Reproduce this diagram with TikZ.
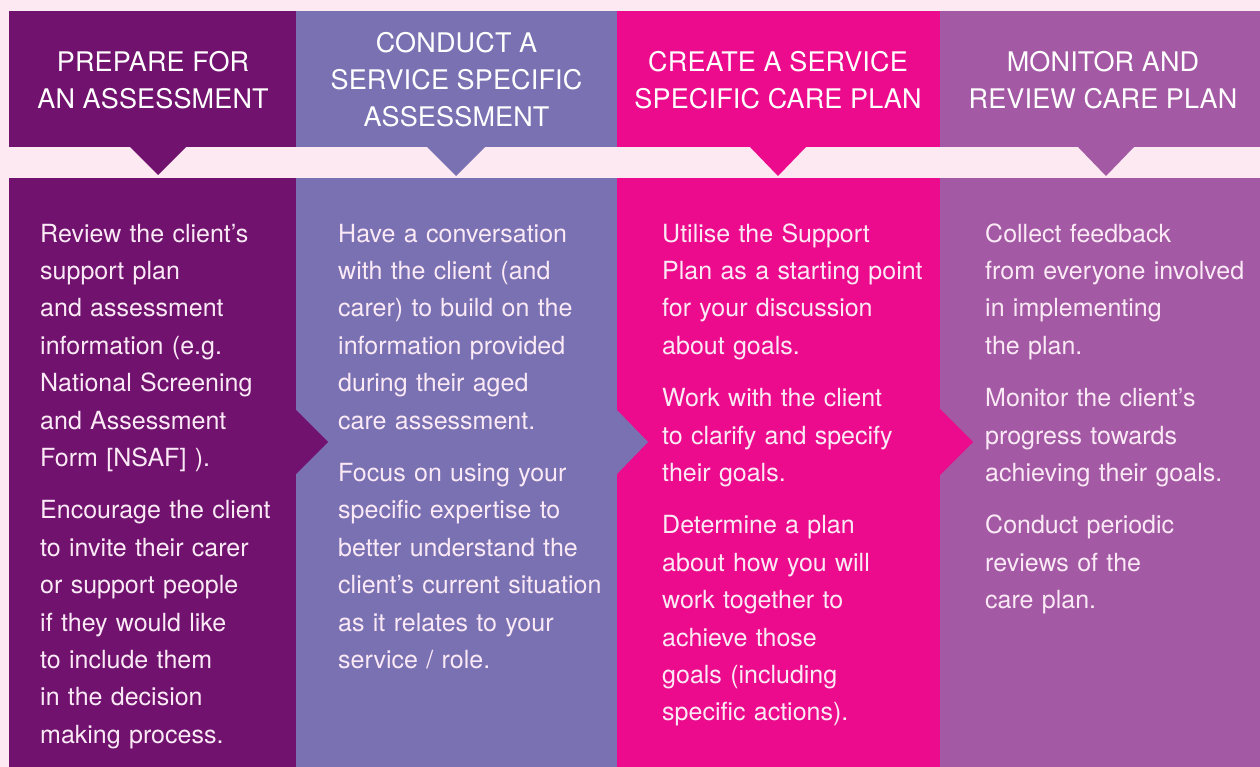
\documentclass[tikz,border=0pt]{standalone}
\usepackage{fontspec}
\setmainfont{TeX Gyre Heros}
\definecolor{bgpink}{HTML}{FCE9F1}
\definecolor{cA}{HTML}{70126E}
\definecolor{cB}{HTML}{7A71B2}
\definecolor{cC}{HTML}{EC0B8C}
\definecolor{cD}{HTML}{A359A3}
\definecolor{bodytxt}{HTML}{FBEAF6}
\begin{document}
\begin{tikzpicture}[x=1pt,y=-1pt,
  head/.style={text=white, font=\fontsize{27}{37}\selectfont\addfontfeature{LetterSpace=0.6}, align=center, inner sep=0pt},
  bodytext/.style={text=bodytxt, font=\fontsize{25}{37.4}\selectfont, align=left,
    text width=300pt, anchor=north west, inner sep=0pt}]
\fill[bgpink] (0,0) rectangle (1260,767);
\useasboundingbox (0,0) rectangle (1260,767);
% header band
\fill[cA] (9,11) rectangle (296,147);
\fill[cB] (296,11) rectangle (617,147);
\fill[cC] (617,11) rectangle (940,147);
\fill[cD] (940,11) rectangle (1260,147);
\fill[cA] (130,147) -- (158,175) -- (186,147) -- cycle;
\fill[cB] (427,147) -- (456,176) -- (485,147) -- cycle;
\fill[cC] (750,147) -- (778,176) -- (806,147) -- cycle;
\fill[cD] (1078,147) -- (1106,176) -- (1134,147) -- cycle;
% body band
\fill[cA] (9,178) rectangle (296,767);
\fill[cB] (296,178) rectangle (617,767);
\fill[cC] (617,178) rectangle (940,767);
\fill[cD] (940,178) rectangle (1260,767);
\fill[cA] (296,410) -- (328,442) -- (296,474) -- cycle;
\fill[cB] (617,410) -- (648,442) -- (617,474) -- cycle;
\fill[cC] (940,409) -- (973,442) -- (940,475) -- cycle;
% headings
\node[head] (h1) at (153,80) {PREPARE FOR\\AN ASSESSMENT};
\node[head] (h2) at (456.5,80) {CONDUCT A\\SERVICE SPECIFIC\\ASSESSMENT};
\node[head] (h3) at (778,80) {CREATE A SERVICE\\SPECIFIC CARE PLAN};
\node[head] (h4) at (1103,80) {MONITOR AND\\REVIEW CARE PLAN};
% body texts
\node[bodytext] (b1) at (40,215.8) {\strut Review the client’s\\support plan\\and assessment\\information (e.g.\\National Screening\\and Assessment\\Form [NSAF] ).\\[15pt]Encourage the client\\to invite their carer\\or support people\\if they would like\\to include them\\in the decision\\making process.};
\node[bodytext] (b2) at (338,215.8) {\strut Have a conversation\\with the client (and\\carer) to build on the\\information provided\\during their aged\\care assessment.\\[15pt]Focus on using your\\specific expertise to\\better understand the\\client’s current situation\\as it relates to your\\service / role.};
\node[bodytext] (b3) at (662,215.8) {\strut Utilise the Support\\Plan as a starting point\\for your discussion\\about goals.\\[15pt]Work with the client\\to clarify and specify\\their goals.\\[15pt]Determine a plan\\about how you will\\work together to\\achieve those\\goals (including\\specific actions).};
\node[bodytext] (b4) at (985,215.8) {\strut Collect feedback\\from everyone involved\\in implementing\\the plan.\\[15pt]Monitor the client’s\\progress towards\\achieving their goals.\\[15pt]Conduct periodic\\reviews of the\\care plan.};
\end{tikzpicture}
\end{document}
